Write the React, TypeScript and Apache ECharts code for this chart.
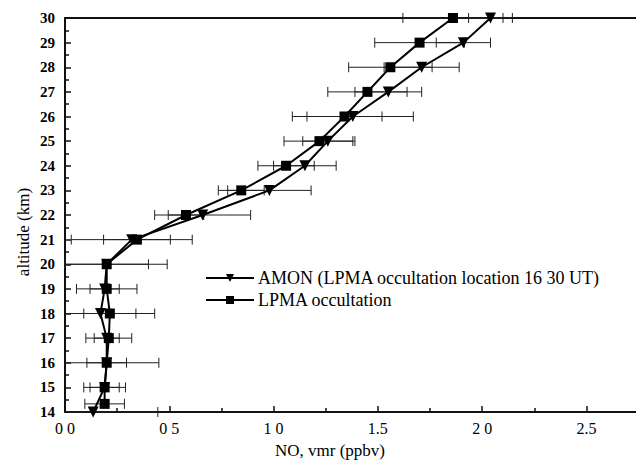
import React, { useEffect, useRef } from "react";
import * as echarts from "echarts";

const amonAltitudes = [30, 29, 28, 27, 26, 25, 24, 23, 22, 21, 20, 19, 18, 17, 16, 15, 14];
const amonValues = [2.04, 1.91, 1.71, 1.55, 1.38, 1.26, 1.15, 0.98, 0.66, 0.32, 0.2, 0.19, 0.17, 0.2, 0.2, 0.19, 0.135];
const amonErrors = [0.105, 0.13, 0.18, 0.16, 0.29, 0.12, 0.15, 0.2, 0.23, 0.29, 0.29, 0.07, 0.26, 0.06, 0.25, 0.07, 0.31];

const lpmaAltitudes = [30, 29, 28, 27, 26, 25, 24, 23, 22, 21, 20, 19, 18, 17, 16, 15, 14.33];
const lpmaValues = [1.86, 1.7, 1.56, 1.45, 1.34, 1.22, 1.06, 0.845, 0.58, 0.345, 0.2, 0.2, 0.215, 0.21, 0.2, 0.19, 0.19];
const lpmaErrors = [0.24, 0.215, 0.2, 0.19, 0.18, 0.17, 0.135, 0.11, 0.085, 0.16, 0.2, 0.145, 0.125, 0.11, 0.095, 0.1, 0.095];

const xTickLabels = ["0 0", "0 5", "1 0", "1.5", "2 0", "2.5"];

const amonName = "AMON (LPMA occultation location 16 30 UT)";
const lpmaName = "LPMA occultation";

const FONT = "'Liberation Serif', 'Times New Roman', serif";
const INK = "#111";

export default function App() {
  const ref = useRef<HTMLDivElement>(null);
  useEffect(() => {
    document.body.style.margin = "0";
    if (!ref.current) return;
    const chart = echarts.init(ref.current, undefined, { renderer: "svg" });

    const amonData = amonValues.map((v, i) => [v, amonAltitudes[i]]);
    const lpmaData = lpmaValues.map((v, i) => [v, lpmaAltitudes[i]]);
    const amonErr = amonValues.map((v, i) => [v, amonAltitudes[i], amonErrors[i]]);
    const lpmaErr = lpmaValues.map((v, i) => [v, lpmaAltitudes[i], lpmaErrors[i]]);

    const renderErr = (params: any, api: any) => {
      const x = api.value(0);
      const y = api.value(1);
      const e = api.value(2);
      const lo = Math.max(0, x - e);
      const hi = x + e;
      const pLo = api.coord([lo, y]);
      const pHi = api.coord([hi, y]);
      const h = 5;
      const style = { stroke: "#222", lineWidth: 1 };
      const children: any[] = [
        { type: "line", shape: { x1: pLo[0], y1: pLo[1], x2: pHi[0], y2: pHi[1] }, style },
        { type: "line", shape: { x1: pHi[0], y1: pHi[1] - h, x2: pHi[0], y2: pHi[1] + h }, style },
      ];
      if (x - e >= 0) {
        children.push({ type: "line", shape: { x1: pLo[0], y1: pLo[1] - h, x2: pLo[0], y2: pLo[1] + h }, style });
      }
      return { type: "group", children };
    };

    chart.setOption({
      animation: false,
      grid: {
        left: 65,
        top: 18,
        width: 584,
        height: 394,
        containLabel: false,
        outerBoundsMode: "none",
        show: false,
      },
      xAxis: [
        {
          type: "value",
          min: 0,
          max: 2.8,
          interval: 0.5,
          splitLine: { show: false },
          axisLine: { show: true, lineStyle: { color: INK, width: 2 } },
          axisTick: { show: true, inside: true, length: 6, lineStyle: { color: INK, width: 1.5 } },
          minorTick: { show: true, splitNumber: 2, length: 4, lineStyle: { color: INK, width: 1.5 } },
          axisLabel: {
            color: "#000",
            fontFamily: FONT,
            fontSize: 16,
            margin: 8,
            formatter: (v: number) => xTickLabels[Math.round(v / 0.5)] ?? "",
          },
        },
        {
          type: "value",
          position: "top",
          min: 0,
          max: 2.8,
          interval: 0.5,
          splitLine: { show: false },
          axisLine: { show: true, lineStyle: { color: INK, width: 2 } },
          axisTick: { show: false },
          axisLabel: { show: false },
        },
      ],
      yAxis: {
        type: "value",
        min: 14,
        max: 30,
        interval: 1,
        splitLine: { show: false },
        axisLine: { show: true, lineStyle: { color: INK, width: 2 } },
        axisTick: { show: true, inside: true, length: 6, lineStyle: { color: INK, width: 1.5 } },
        minorTick: { show: true, splitNumber: 2, length: 4, lineStyle: { color: INK, width: 1.5 } },
        axisLabel: {
          color: "#000",
          fontFamily: FONT,
          fontSize: 15,
          fontWeight: "bold",
          margin: 10,
        },
      },
      legend: {
        data: [amonName, lpmaName],
        orient: "vertical",
        left: 205,
        top: 269,
        padding: 0,
        itemWidth: 48,
        itemHeight: 10,
        itemGap: 4,
        textStyle: { color: "#000", fontFamily: FONT, fontSize: 18, padding: [0, 0, 0, -1] },
      },
      graphic: [
        {
          type: "text",
          x: 23,
          y: 232,
          rotation: Math.PI / 2,
          style: { text: "altitude (km)", fill: "#000", font: `17px ${FONT}`, align: "center", verticalAlign: "middle" },
        },
        {
          type: "text",
          x: 330,
          y: 450,
          style: { text: "NO, vmr (ppbv)", fill: "#000", font: `17px ${FONT}`, align: "center", verticalAlign: "middle" },
        },
      ],
      series: [
        { type: "custom", name: "amonErr", renderItem: renderErr, data: amonErr, encode: { x: 0, y: 1 }, clip: false, z: 1 },
        { type: "custom", name: "lpmaErr", renderItem: renderErr, data: lpmaErr, encode: { x: 0, y: 1 }, clip: false, z: 1 },
        {
          type: "line", name: amonName, data: amonData, symbol: "triangle", symbolRotate: 180, symbolSize: 11,
          itemStyle: { color: "#000" }, lineStyle: { color: "#000", width: 2 }, clip: false, z: 3,
        },
        {
          type: "line", name: lpmaName, data: lpmaData, symbol: "rect", symbolSize: 10,
          itemStyle: { color: "#000" }, lineStyle: { color: "#000", width: 2 }, clip: false, z: 3,
        },
      ],
    });
    return () => chart.dispose();
  }, []);
  return <div ref={ref} style={{ width: 636, height: 462 }} />;
}
